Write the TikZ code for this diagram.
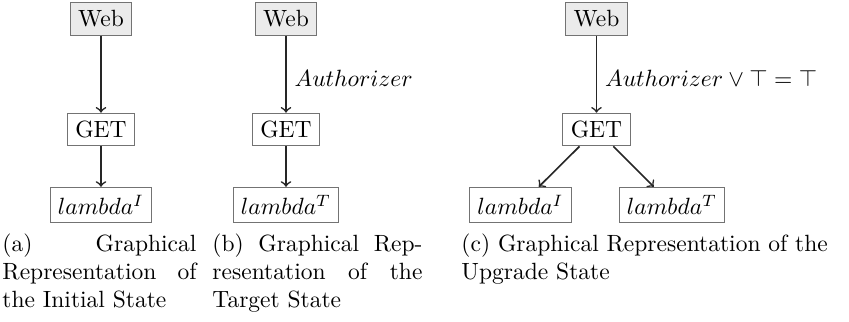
\documentclass[tikz,border=0pt]{standalone}
\newlength\pxu
\setlength\pxu{0.4255pt}
\tikzset{
  box/.style={draw=black!55, line width=0.4pt, inner sep=3.33pt, font=\fontsize{10}{12}\selectfont},
  webbox/.style={box, fill=black!8},
  conn/.style={->, line width=0.7pt, draw=black!85},
  lbl/.style={anchor=west, inner sep=3.33pt, font=\fontsize{10}{12}\selectfont},
  capline/.style={anchor=base west, inner sep=0pt, font=\fontsize{10}{12}\selectfont},
}
\begin{document}
\begin{tikzpicture}[x=0.4255pt, y=-0.4255pt]
\useasboundingbox (0,0) rectangle (849,322);
% (a)
\node[webbox] (wa) at (101,19) {Web};
\node[box] (ga) at (101,129.5) {GET};
\node[box] (la) at (101,205) {$lambda^I$};
\draw[conn] (wa) -- (ga);
\draw[conn] (ga) -- (la);
% (b)
\node[webbox] (wb) at (286,19) {Web};
\node[box] (gb) at (286,129.5) {GET};
\node[box] (lb) at (286,205) {$lambda^T$};
\draw[conn] (wb) -- node[lbl, pos=0.55] (ab) {$Authorizer$} (gb);
\draw[conn] (gb) -- (lb);
% (c)
\node[webbox] (wc) at (596.5,19) {Web};
\node[box] (gc) at (596.5,129.5) {GET};
\node[box] (lc1) at (520.5,205) {$lambda^I$};
\node[box] (lc2) at (672,205) {$lambda^T$};
\draw[conn] (wc) -- node[lbl, pos=0.55] (ac) {$Authorizer \vee \top = \top$} (gc);
\draw[conn] (gc) -- (lc1);
\draw[conn] (gc) -- (lc2);
% captions
\node[capline] (ca1) at (2,252) {\makebox[194\pxu][s]{(a) Graphical}};
\node[capline] (ca2) at (2,280) {\makebox[194\pxu][s]{Representation of}};
\node[capline] (ca3) at (2,308) {the Initial State};
\node[capline] (cb1) at (212,252) {\makebox[210\pxu][s]{(b) Graphical Rep-}};
\node[capline] (cb2) at (212,280) {\makebox[210\pxu][s]{resentation of the}};
\node[capline] (cb3) at (212,308) {Target State};
\node[capline] (cc1) at (461,252) {(c) Graphical Representation of the};
\node[capline] (cc2) at (461,280) {Upgrade State};
\end{tikzpicture}
\end{document}
